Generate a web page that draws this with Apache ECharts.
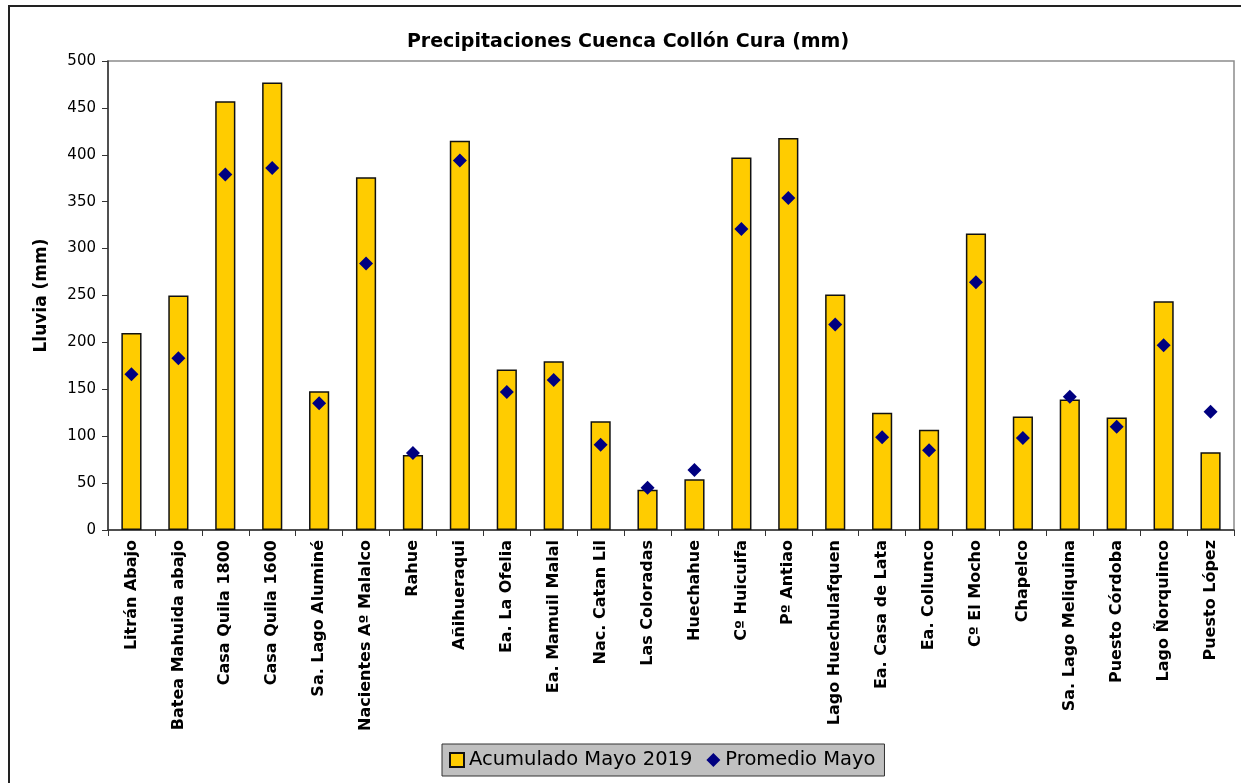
<!DOCTYPE html>
<html>
<head>
<meta charset="utf-8">
<script src="https://cdn.jsdelivr.net/npm/echarts@6/dist/echarts.min.js"></script>
<style>
  html, body { margin: 0; padding: 0; background: #fff; overflow: hidden; }
  .frame {
    position: absolute; left: 8px; top: 5px;
    width: 1260px; height: 800px;
    border: 2px solid #222; box-sizing: border-box;
  }
  #chart { position: absolute; left: 0; top: 0; width: 1241px; height: 783px; }
</style>
</head>
<body>
<div class="frame"></div>
<div id="chart"></div>
<script>
// estaciones
const estaciones = [
  "Litrán Abajo", "Batea Mahuida abajo", "Casa Quila 1800", "Casa Quila 1600",
  "Sa. Lago Aluminé", "Nacientes Aº Malalco", "Rahue", "Añihueraqui",
  "Ea. La Ofelia", "Ea. Mamuil Malal", "Nac. Catan Lil", "Las Coloradas",
  "Huechahue", "Cº Huicuifa", "Pº Antiao", "Lago Huechulafquen",
  "Ea. Casa de Lata", "Ea. Collunco", "Cº El Mocho", "Chapelco",
  "Sa. Lago Meliquina", "Puesto Córdoba", "Lago Ñorquinco", "Puesto López"
];
// acumulado mayo 2019 (mm)
const acumulado = [
  210, 250, 457, 477, 148, 376, 80, 415,
  171, 180, 116, 43, 54, 397, 418, 251,
  125, 107, 316, 121, 139, 120, 244, 83
];
// promedio mayo (mm)
const promedio = [
  166, 183, 379, 386, 135, 284, 82, 394,
  147, 160, 91, 45, 64, 321, 354, 219,
  99, 85, 264, 98, 142, 110, 197, 126
];
// ticks eje y
const yMin = 0, yMax = 500, yPaso = 50;

const fuente = "DejaVu Sans";
const chart = echarts.init(document.getElementById("chart"));

chart.setOption({
  animation: false,
  title: {
    text: "Precipitaciones Cuenca Collón Cura (mm)",
    left: 623,
    textAlign: "center",
    top: 28,
    textStyle: { fontFamily: fuente, fontSize: 19, fontWeight: "bold", color: "#000" },
  },
  legend: {
    left: 442,
    top: 744,
    padding: [6, 9, 6, 7],
    itemGap: 14,
    itemWidth: 14,
    itemHeight: 14,
    backgroundColor: "#c0c0c0",
    borderColor: "#333",
    borderWidth: 1,
    borderRadius: 0,
    textStyle: { fontFamily: fuente, fontSize: 19.5, color: "#000" },
    data: [
      { name: "Acumulado Mayo 2019", icon: "rect" },
      { name: "Promedio Mayo", icon: "diamond" },
    ],
  },
  grid: {
    left: 108,
    right: 7,
    top: 61,
    bottom: 253,
    show: true,
    borderColor: "#8c8c8c",
    borderWidth: 1.5,
    backgroundColor: "#fff",
  },
  xAxis: {
    type: "category",
    data: estaciones,
    boundaryGap: true,
    axisLine: { lineStyle: { color: "#333", width: 1.5 } },
    axisTick: { show: true, length: 6, lineStyle: { color: "#333" } },
    axisLabel: {
      rotate: 90,
      margin: 10,
      interval: 0,
      fontFamily: fuente,
      fontSize: 16,
      fontWeight: "bold",
      color: "#000",
    },
  },
  yAxis: {
    type: "value",
    min: yMin,
    max: yMax,
    interval: yPaso,
    name: "Lluvia (mm)",
    nameLocation: "middle",
    nameRotate: 90,
    nameGap: 58,
    nameTextStyle: { fontFamily: fuente, fontSize: 17, fontWeight: "bold", color: "#000" },
    splitLine: { show: false },
    axisLine: { show: true, lineStyle: { color: "#333", width: 1.5 } },
    axisTick: { show: true, length: 6, lineStyle: { color: "#333" } },
    axisLabel: { margin: 12, fontFamily: fuente, fontSize: 15, color: "#000" },
  },
  series: [
    {
      name: "Acumulado Mayo 2019",
      type: "bar",
      data: acumulado,
      barWidth: "43%",
      itemStyle: { color: "#ffcc00", borderColor: "#111", borderWidth: 1.5 },
    },
    {
      name: "Promedio Mayo",
      type: "scatter",
      data: promedio,
      symbol: "diamond",
      symbolSize: 14,
      itemStyle: { color: "#000080", opacity: 1 },
      z: 5,
    },
  ],
});
</script>
</body>
</html>
